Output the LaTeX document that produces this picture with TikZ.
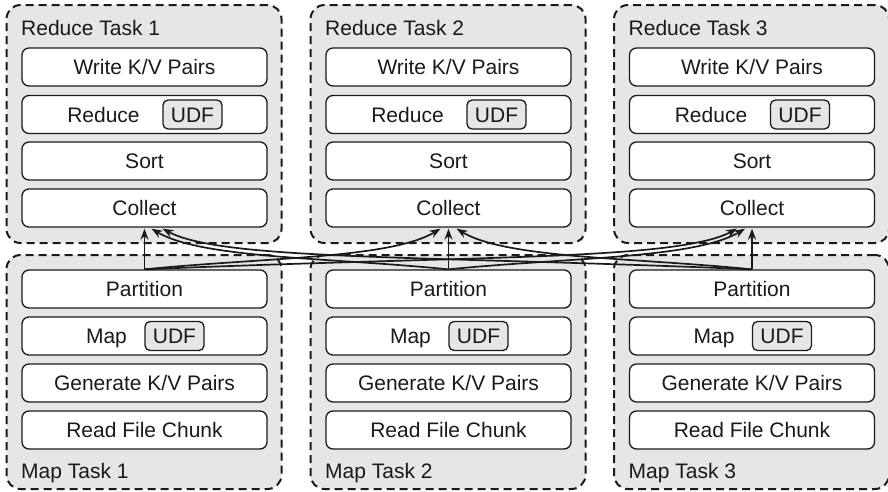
\documentclass[tikz,border=0pt]{standalone}
\usepackage{fontspec}
\setmainfont{Liberation Sans}
\usetikzlibrary{arrows.meta}
\definecolor{taskfill}{HTML}{E6E6E6}
\definecolor{ink}{HTML}{1A1A1A}

\begin{document}
\begin{tikzpicture}[x=1pt,y=-1pt,
  font=\fontsize{21}{25}\selectfont, text=ink,
  taskbox/.style={draw=ink, line width=2pt, dash pattern=on 8pt off 5pt,
    fill=taskfill, rounded corners=14pt, minimum width=275pt, inner sep=0pt},
  stagebox/.style={draw=ink, line width=1.3pt, fill=white, rounded corners=7pt,
    minimum width=245pt, minimum height=38pt, inner sep=0pt,
    text height=15pt, text depth=0pt},
  udfbox/.style={draw=ink, line width=1.3pt, fill=taskfill, rounded corners=5pt,
    minimum width=59pt, minimum height=29pt, inner sep=0pt,
    text height=15pt, text depth=0pt},
  plain/.style={inner sep=0pt, text height=15pt, text depth=0pt},
  flow/.style={draw=ink, line width=1.7pt, -{Stealth[length=11pt,width=8pt]}},
]
\useasboundingbox (0,0) rectangle (888,491);

\foreach \i/\cx in {1/144.5,2/448.5,3/752}{
  % reduce task column
  \node[taskbox, minimum height=238pt] (rt\i) at (\cx-0.5,124) {};
  \node[plain, anchor=west] (rl\i) at (\cx-123.5,27.5) {Reduce Task \i};
  \node[stagebox] (w\i) at (\cx,67) {Write K/V Pairs};
  \node[stagebox] (r\i) at (\cx,114.5) {};
  \node[plain] (rn\i) at (\cx-41,114.5) {Reduce};
  \node[udfbox] (ru\i) at (\cx+48,114.5) {UDF};
  \node[stagebox] (s\i) at (\cx,161) {Sort};
  \node[stagebox] (c\i) at (\cx,208) {Collect};
  % map task column
  \node[taskbox, minimum height=234pt] (mt\i) at (\cx-0.5,372) {};
  \node[plain, anchor=west] (ml\i) at (\cx-123.5,470.5) {Map Task \i};
  \node[stagebox] (p\i) at (\cx,289) {Partition};
  \node[stagebox] (m\i) at (\cx,336) {};
  \node[plain] (mn\i) at (\cx-38,336) {Map};
  \node[udfbox] (mu\i) at (\cx+30,336) {UDF};
  \node[stagebox] (g\i) at (\cx,383) {Generate K/V Pairs};
  \node[stagebox] (f\i) at (\cx,430) {Read File Chunk};
  \coordinate (b\i) at (p\i.north);
}

% arrival points on the Collect boxes
\coordinate (t11) at ([yshift=-1pt]c1.south);
\coordinate (t21) at ([xshift=7pt,yshift=-1pt]c1.south);
\coordinate (t31) at ([xshift=18pt,yshift=-1pt]c1.south);
\coordinate (t12) at ([xshift=-8pt,yshift=-1pt]c2.south);
\coordinate (t22) at ([yshift=-1pt]c2.south);
\coordinate (t32) at ([xshift=8pt,yshift=-1pt]c2.south);
\coordinate (t13) at ([xshift=-15pt,yshift=-1pt]c3.south);
\coordinate (t23) at ([xshift=-7pt,yshift=-1pt]c3.south);
\coordinate (t33) at ([yshift=-1pt]c3.south);

% shuffle: every partition feeds every collect
\foreach \i in {1,2,3}{ \draw[flow] (b\i) -- (t\i\i); }
\draw[flow] (b2) .. controls +(-120,-12) and +(50,30) .. (t21);
\draw[flow] (b3) .. controls +(-330,-14) and +(60,32) .. (t31);
\draw[flow] (b1) .. controls +(120,-12) and +(-50,30) .. (t12);
\draw[flow] (b3) .. controls +(-120,-12) and +(50,30) .. (t32);
\draw[flow] (b1) .. controls +(330,-14) and +(-60,32) .. (t13);
\draw[flow] (b2) .. controls +(120,-12) and +(-50,30) .. (t23);
\end{tikzpicture}
\end{document}
